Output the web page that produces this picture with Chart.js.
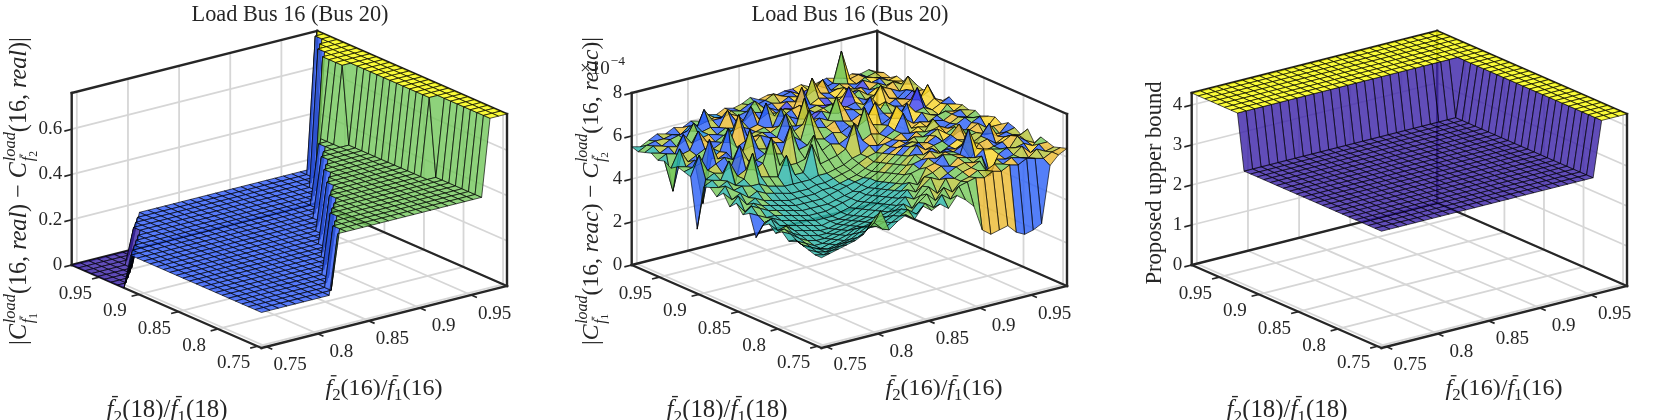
<!DOCTYPE html>
<html>
<head>
<meta charset="utf-8">
<script src="https://cdn.jsdelivr.net/npm/chart.js@4.4.1/dist/chart.umd.min.js"></script>
<style>
html,body{margin:0;padding:0;background:#fff;overflow:hidden;}
#wrap{position:relative;width:1680px;height:420px;}
.pane{position:absolute;top:0;width:560px;height:420px;}
canvas{display:block;}
</style>
</head>
<body>
<div id="wrap">
  <div class="pane" style="left:0px"><canvas id="c1" width="560" height="420"></canvas></div>
  <div class="pane" style="left:560px"><canvas id="c2" width="560" height="420"></canvas></div>
  <div class="pane" style="left:1120px"><canvas id="c3" width="560" height="420"></canvas></div>
</div>
<script>
// ===================== DATA =====================
const axisMin = 0.745, axisMax = 0.985;          // x / y axis limits (both ratios)
const xTicks = [0.75, 0.8, 0.85, 0.9, 0.95];      // f2(16)/f1(16)
const yTicks = [0.75, 0.8, 0.85, 0.9, 0.95];      // f2(18)/f1(18)
const zTicks1 = [0, 0.2, 0.4, 0.6];
const zTicks2 = [0, 2, 4, 6, 8];                  // x 10^-4
const zTicks3 = [0, 1, 2, 3, 4];
const zTop1 = 0.76, zTop2 = 8, zTop3 = 4.3;

// grid of operating points (30 points per axis)
const grid30 = [0.7450,0.7533,0.7616,0.7698,0.7781,0.7864,0.7947,0.8029,0.8112,0.8195,
                0.8278,0.8360,0.8443,0.8526,0.8609,0.8691,0.8774,0.8857,0.8940,0.9022,
                0.9105,0.9188,0.9271,0.9353,0.9436,0.9519,0.9602,0.9684,0.9767,0.9850];

// Panel 1: plateau levels and, per row of f2(18)/f1(18), runs of [level index, count] along f2(16)/f1(16)
const levels1 = [0, 0.157, 0.42, 0.76];
const runs1 = [
 [1,9, 2,18, 3,3],[1,10, 2,17, 3,3],[1,10, 2,17, 3,3],[1,11, 2,16, 3,3],[1,12, 2,15, 3,3],
 [1,12, 2,15, 3,3],[1,13, 2,14, 3,3],[1,14, 2,13, 3,3],[1,15, 2,11, 3,4],[1,15, 2,11, 3,4],
 [1,16, 2,10, 3,4],[1,17, 2,9, 3,4],[1,17, 2,9, 3,4],[1,18, 2,8, 3,4],[1,19, 2,7, 3,4],
 [1,19, 2,7, 3,4],[1,20, 2,6, 3,4],[1,21, 2,5, 3,4],[1,21, 2,5, 3,4],[1,22, 2,4, 3,4],
 [1,23, 2,2, 3,5],[0,1, 1,22, 2,2, 3,5],[0,2, 1,22, 2,1, 3,5],[0,3, 1,22, 3,5],[0,4, 1,22, 3,4],
 [0,5, 1,21, 3,4],[0,5, 1,22, 3,3],[0,6, 1,22, 3,2],[0,7, 1,21, 3,2],[0,8, 1,21, 3,1]
];

// Panel 2: |C1 - C2| (reactive), in tenths of 1e-4; rows = f2(18)/f1(18), cols = f2(16)/f1(16)
const z2tenths = [
 [42,43,44,45,46,48,53,57,47,50, 52,49,54,51,53,50,55,52,48,36, 33,34,35,31,29,30,32,58,62,64],
 [42,41,42,43,44,45,47,50,46,48, 50,52,49,53,50,55,52,57,58,59, 58,60,59,61,60,62,61,60,62,63],
 [43,41,40,41,42,43,45,47,46,47, 49,51,48,52,55,51,56,53,57,58, 60,59,61,60,62,61,60,63,61,62],
 [44,42,40,39,40,41,43,45,44,46, 47,49,51,48,53,56,52,58,57,59, 60,62,54,61,60,61,64,60,63,63],
 [45,41,39,38,39,40,41,43,43,44, 46,47,49,52,50,55,58,56,58,60, 61,60,62,52,61,63,62,63,61,64],
 [43,42,40,38,38,39,40,41,42,43, 44,46,48,50,53,51,57,58,60,59, 62,61,60,63,62,61,60,65,62,60],
 [46,44,41,39,38,38,39,40,41,42, 43,45,47,49,51,54,52,59,60,63, 62,61,72,62,60,61,62,64,63,65],
 [44,45,42,40,39,38,38,39,40,41, 42,44,46,48,50,52,56,57,61,60, 62,61,63,56,62,63,60,62,62,61],
 [47,43,44,41,40,39,38,38,39,40, 41,43,45,47,49,51,54,58,59,62, 60,61,60,62,61,63,68,61,62,63],
 [45,47,43,42,41,40,39,38,39,39, 40,42,44,46,48,50,53,56,60,59, 61,58,60,62,61,57,62,61,60,64],
 [38,44,45,43,42,41,40,39,39,39, 40,41,43,45,47,49,52,55,58,62, 59,60,61,63,67,60,61,59,62,62],
 [48,46,44,44,43,42,41,40,40,40, 41,42,43,45,46,48,51,54,57,60, 61,60,62,58,60,62,61,63,60,64],
 [46,49,47,45,44,43,42,41,41,41, 41,42,43,44,46,48,50,53,56,59, 60,57,61,63,60,62,58,62,64,63],
 [50,45,48,46,45,44,43,42,42,42, 42,43,44,45,46,47,49,52,55,57, 58,60,59,61,62,60,61,63,62,61],
 [47,51,46,48,46,45,44,43,43,43, 43,44,44,45,46,47,49,51,54,56, 58,57,60,59,64,58,60,62,61,63],
 [52,48,50,47,49,47,46,45,44,44, 44,45,45,46,47,48,50,52,53,56, 57,59,58,60,59,61,60,62,63,62],
 [49,53,50,51,50,50,48,47,46,46, 46,46,47,47,48,49,51,52,55,54, 57,59,66,58,60,59,61,62,61,63],
 [52,51,53,50,52,63,51,50,49,58, 48,48,60,50,51,52,54,65,56,58, 57,60,68,61,58,62,60,59,63,62],
 [51,53,52,60,52,54,53,55,66,52, 51,51,52,62,54,56,55,57,58,69, 60,59,61,60,66,61,62,60,62,64],
 [30,52,54,53,55,64,56,55,57,56, 55,67,55,56,58,57,59,58,60,59, 61,68,62,61,60,62,70,60,63,61],
 [53,62,54,56,58,56,57,68,58,57, 59,58,60,57,70,61,60,62,61,60, 62,61,60,65,62,61,63,62,68,60],
 [54,55,56,66,56,58,42,57,58,62, 60,59,69,60,62,61,63,61,71,64, 63,62,67,62,61,63,62,65,61,63],
 [55,54,56,35,55,57,67,57,59,60, 61,60,62,61,60,72,61,64,62,61, 63,64,62,63,69,62,61,64,62,62],
 [53,61,54,56,58,57,59,58,70,59, 60,61,60,68,63,61,60,62,63,64, 62,70,64,62,63,66,64,62,68,63],
 [55,40,56,57,65,59,58,60,61,62, 60,61,70,63,62,64,65,62,63,62, 61,64,63,65,62,64,63,65,63,62],
 [54,56,55,63,58,59,60,59,61,60, 62,68,61,63,62,63,62,71,62,64, 63,62,66,63,64,62,64,62,63,62],
 [56,55,57,56,58,65,60,61,60,67, 61,60,63,62,63,61,64,63,62,72, 64,63,64,63,62,65,63,64,62,63],
 [55,57,56,58,59,60,59,68,62,62, 63,61,62,66,62,63,62,64,63,62, 64,68,62,64,63,62,64,63,62,61],
 [54,56,57,57,58,57,60,59,60,61, 60,62,61,63,62,63,65,63,64,62, 63,64,62,63,77,63,64,62,63,62],
 [55,54,56,58,57,59,58,60,59,61, 60,62,61,62,64,62,63,62,63,63, 64,62,63,64,63,62,63,62,63,61]
];
// Panel 2 face colour index (0..9 along the colormap), same layout as z2tenths
const c2 = [
 "4444445544 5455455557 7772222777","4444444544 4545556565 6757226667","4444444444 4455565657 5762567276",
 "5444444444 4445556256 7527262857","4544444444 4444565627 5628576288","4454444444 4444556725 7286527862",
 "5444444444 4444455627 5267728625","4544444444 4444555276 2758627268","4454444444 4444456562 7286258726",
 "5444444444 4444455627 6527862572","2544444444 4444455562 7286257682","4545444444 4444456526 2768527286",
 "5454444444 4444455672 6528762527","4545444444 4444555627 2756826257","5454544444 4445556562 7286527268",
 "4545454444 4445555627 5268725762","5454545544 4455556276 2857262587","4545656555 5555562657 6272856827",
 "5456262565 6556526267 8275612876","2562526256 2625657267 2856271826","4526272562 7256826572 6285271687",
 "5262725276 2572682567 2618762578","4625362726 5726271857 1826572867","5262725362 7265272618 7256827621",
 "4526272536 2725627281 6827256782","5262536272 5627217267 2856172687","4625272625 7256272816 7267258276",
 "5262536272 6527267281 6725872678","4526272563 7265276218 6728672576","5262527262 5726258267 1672586725"
];

// Panel 3: proposed upper bound, two plateau levels, runs per row
const levels3 = [2.92, 4.3];
const runs3 = [
 [0,26, 1,4],[0,26, 1,4],[0,26, 1,4],[0,26, 1,4],[0,26, 1,4],[0,26, 1,4],[0,26, 1,4],[0,26, 1,4],
 [0,26, 1,4],[0,26, 1,4],[0,26, 1,4],[0,26, 1,4],[0,26, 1,4],[0,26, 1,4],[0,26, 1,4],[0,26, 1,4],
 [0,26, 1,4],[0,26, 1,4],[0,26, 1,4],[0,26, 1,4],[0,26, 1,4],[0,26, 1,4],
 [1,30],[1,30],[1,30],[1,30],[1,30],[1,30],[1,30],[1,30]
];

const titleText = "Load Bus 16 (Bus 20)";
const zLabel3 = "Proposed upper bound";

// ===================== STYLE / LAYOUT =====================
const VIEW = { ox:261.5, oy:348, Xx:245.5, Xy:-62, Yx:-189.8, Yy:-83, Zy:-172 };
const DEPTH = { u:-175.8, v:-235.8, w:60.6 };
const FONT = '"Liberation Serif","Times New Roman",serif';
const INK = '#262626';
const FACE_ALPHA = 0.82;
const CMAP = [[0,[62,38,170]],[0.1,[65,65,235]],[0.2,[50,90,250]],[0.3,[30,130,235]],[0.4,[15,170,205]],
              [0.5,[80,195,120]],[0.6,[150,205,70]],[0.7,[200,192,55]],[0.8,[245,185,50]],[0.9,[250,215,40]],[1,[249,251,14]]];

function cmap(t){
  t = Math.max(0, Math.min(1, t));
  for (let k = 1; k < CMAP.length; k++) {
    if (t <= CMAP[k][0]) {
      const t0 = CMAP[k-1][0], c0 = CMAP[k-1][1], t1 = CMAP[k][0], c1 = CMAP[k][1];
      const f = (t - t0) / (t1 - t0);
      return c0.map((c, i) => Math.round(c + (c1[i] - c) * f));
    }
  }
  return CMAP[CMAP.length-1][1];
}
function expandRuns(runs, levels){
  return runs.map(r => { const row = []; for (let k = 0; k < r.length; k += 2) for (let n = 0; n < r[k+1]; n++) row.push(levels[r[k]]); return row; });
}
const Z1 = expandRuns(runs1, levels1);
const Z2 = z2tenths.map(r => r.map(v => v / 10));   // units of 1e-4
const Z3 = expandRuns(runs3, levels3);
const C2 = c2.map(s => s.replace(/ /g,'').split('').map(Number));

// ---------- rich text ----------
function fnt(it, size){ return (it ? 'italic ' : '') + size.toFixed(2) + 'px ' + FONT; }
function itemW(ctx, it, size){
  if (it.sup || it.sub) return Math.max(it.sup ? runW(ctx, it.sup, size) : 0, it.sub ? runW(ctx, it.sub, size) : 0);
  ctx.font = fnt(it.i, size * (it.s || 1));
  return ctx.measureText(it.t).width + (it.k || 0) * size;
}
function runW(ctx, items, size){ let w = 0; for (const it of items) w += itemW(ctx, it, size); return w; }
function drawRun(ctx, items, x, y, size){
  for (const it of items) {
    if (it.sup || it.sub) {
      if (it.sup) drawRun(ctx, it.sup, x, y, size);
      if (it.sub) drawRun(ctx, it.sub, x, y, size);
      x += itemW(ctx, it, size);
      continue;
    }
    const s = size * (it.s || 1);
    ctx.font = fnt(it.i, s);
    const by = y + (it.dy || 0) * size;
    ctx.fillText(it.t, x, by);
    const w = ctx.measureText(it.t).width;
    if (it.bar) {
      ctx.save(); ctx.lineWidth = Math.max(0.9, s * 0.055); ctx.strokeStyle = ctx.fillStyle;
      ctx.beginPath(); ctx.moveTo(x + 0.22 * s, by - 0.8 * s); ctx.lineTo(x + w + 0.18 * s, by - 0.8 * s); ctx.stroke();
      ctx.restore();
    }
    x += w + (it.k || 0) * size;
  }
}
function fitSize(ctx, items, target){ const base = 20; return base * target / runW(ctx, items, base); }
function drawCentered(ctx, items, cx, by, target){
  const size = fitSize(ctx, items, target);
  const w = runW(ctx, items, size);
  drawRun(ctx, items, cx - w / 2, by, size);
}
const fbar = n => [{t:'f', i:true, bar:true}, {t:String(n), s:0.7, dy:0.22}];
function ratioLabel(bus){ return [...fbar(2), {t:'('+bus+')/'}, ...fbar(1), {t:'('+bus+')'}]; }
function cterm(n){ return {sup:[{t:'load', i:true, s:0.68, dy:-0.46}], sub:[{t:'f', i:true, s:0.68, dy:0.3, bar:true}, {t:String(n), s:0.48, dy:0.44}]}; }
function zMathLabel(kind){
  return [{t:'|'}, {t:'C', i:true, k:0.03}, cterm(1), {t:'(16, '}, {t:kind, i:true}, {t:') \u2212 '},
          {t:'C', i:true, k:0.03}, cterm(2), {t:'(16, '}, {t:kind, i:true}, {t:')|'}];
}

// ---------- panel descriptions ----------
const panels = [
  { id:'c1', gx:grid30, gy:grid30, Z:Z1, zTop:zTop1, zTicks:zTicks1,
    colorT:(j,i)=> (Z1[j][i] - levels1[0]) / (levels1[3] - levels1[0]),
    title:titleText, zlab:zMathLabel('real'), zlabX:26, zlabY:191, zlabLen:308 },
  { id:'c2', gx:grid30, gy:grid30, Z:Z2, zTop:zTop2, zTicks:zTicks2,
    colorT:(j,i)=> C2[j][i] / 9,
    title:titleText, zlab:zMathLabel('reac'), zlabX:38, zlabY:191, zlabLen:308, exponent:true },
  { id:'c3', gx:grid30, gy:grid30, Z:Z3, zTop:zTop3, zTicks:zTicks3,
    colorT:(j,i)=> (Z3[j][i] - levels3[0]) / (levels3[1] - levels3[0]),
    title:null, zlabText:zLabel3, zlabX:41, zlabY:183, zlabLen:203 }
];

function makeSurfacePlugin(cfg){
  return {
  id: 'surface3d_' + cfg.id,
  afterDraw(chart){
    const ctx = chart.ctx, sx = chart.scales.x, sy = chart.scales.y;
    const P = (u, v, w) => [sx.getPixelForValue(VIEW.ox + u*VIEW.Xx + v*VIEW.Yx),
                            sy.getPixelForValue(VIEW.oy + u*VIEW.Xy + v*VIEW.Yy + w*VIEW.Zy)];
    const U = x => (x - axisMin) / (axisMax - axisMin);
    const W = z => z / cfg.zTop;
    const seg = (a, b) => { ctx.beginPath(); ctx.moveTo(a[0], a[1]); ctx.lineTo(b[0], b[1]); ctx.stroke(); };
    ctx.save();
    ctx.lineCap = 'butt';
    // grid lines on the three back planes
    ctx.strokeStyle = '#d6d6d6'; ctx.lineWidth = 1.8;
    for (const t of xTicks) { const u = U(t); seg(P(u,0,0), P(u,1,0)); seg(P(u,1,0), P(u,1,1)); }
    for (const t of yTicks) { const v = U(t); seg(P(0,v,0), P(1,v,0)); seg(P(1,v,0), P(1,v,1)); }
    for (const t of cfg.zTicks) { const w = W(t); seg(P(0,1,w), P(1,1,w)); seg(P(1,0,w), P(1,1,w)); }
    // box (back style)
    ctx.strokeStyle = INK; ctx.lineWidth = 2.4; ctx.lineCap = 'square';
    const E = [[[0,0,0],[1,0,0]],[[0,0,0],[0,1,0]],[[0,1,0],[1,1,0]],[[1,0,0],[1,1,0]],
               [[0,1,0],[0,1,1]],[[1,1,0],[1,1,1]],[[1,0,0],[1,0,1]],[[0,1,1],[1,1,1]],[[1,0,1],[1,1,1]]];
    for (const e of E) seg(P(e[0][0], e[0][1], e[0][2]), P(e[1][0], e[1][1], e[1][2]));
    // tick marks
    ctx.lineWidth = 1.7; ctx.lineCap = 'butt';
    for (const t of xTicks) { const u = U(t); seg(P(u,0,0), P(u,-0.03,0)); }
    for (const t of yTicks) { const v = U(t); seg(P(0,v,0), P(-0.03,v,0)); }
    for (const t of cfg.zTicks) { const w = W(t); seg(P(0,1,w), P(-0.03,1,w)); }
    // surface faces (painter's algorithm)
    const gx = cfg.gx, gy = cfg.gy, Z = cfg.Z, faces = [];
    for (let j = 0; j < gy.length - 1; j++) {
      for (let i = 0; i < gx.length - 1; i++) {
        const q = [[i,j],[i+1,j],[i+1,j+1],[i,j+1]].map(ab => [U(gx[ab[0]]), U(gy[ab[1]]), W(Z[ab[1]][ab[0]])]);
        let d = 0; for (const p of q) d += DEPTH.u*p[0] + DEPTH.v*p[1] + DEPTH.w*p[2];
        faces.push({ q: q, d: d, c: cmap(cfg.colorT(j, i)) });
      }
    }
    faces.sort((a, b) => a.d - b.d);
    ctx.lineWidth = 0.7; ctx.strokeStyle = 'rgba(0,0,0,0.95)'; ctx.lineJoin = 'round';
    for (const f of faces) {
      ctx.beginPath();
      f.q.forEach((p, k) => { const s = P(p[0], p[1], p[2]); if (k) ctx.lineTo(s[0], s[1]); else ctx.moveTo(s[0], s[1]); });
      ctx.closePath();
      ctx.fillStyle = 'rgba(' + f.c[0] + ',' + f.c[1] + ',' + f.c[2] + ',' + FACE_ALPHA + ')';
      ctx.fill(); ctx.stroke();
    }
    // tick labels
    ctx.fillStyle = INK; ctx.font = '19px ' + FONT; ctx.textBaseline = 'middle';
    ctx.textAlign = 'center';
    for (const t of xTicks) { const p = P(U(t),0,0); ctx.fillText(String(t), p[0] + 23.5, p[1] + 18.5); }
    for (const t of yTicks) { const p = P(0,U(t),0); ctx.fillText(String(t), p[0] - 24, p[1] + 17); }
    ctx.textAlign = 'right';
    for (const t of cfg.zTicks) { const p = P(0,1,W(t)); ctx.fillText(String(t), p[0] - 9.5, p[1]); }
    ctx.textAlign = 'left'; ctx.textBaseline = 'alphabetic';
    // exponent
    if (cfg.exponent) {
      ctx.font = '19px ' + FONT; ctx.fillText('\u00d710', 20, 74);
      const w = ctx.measureText('\u00d710').width;
      ctx.font = '13.5px ' + FONT; ctx.fillText('\u22124', 20 + w + 1, 64.5);
    }
    // axis labels
    drawCentered(ctx, ratioLabel(16), 384, 395, 117);
    drawCentered(ctx, ratioLabel(18), 167, 416.5, 121);
    // title
    if (cfg.title) drawCentered(ctx, [{t:cfg.title}], 290, 21, 197);
    // z label (rotated)
    ctx.save();
    ctx.translate(cfg.zlabX, cfg.zlabY); ctx.rotate(-Math.PI / 2);
    if (cfg.zlab) drawCentered(ctx, cfg.zlab, 0, 0, cfg.zlabLen);
    else drawCentered(ctx, [{t:cfg.zlabText}], 0, 0, cfg.zlabLen);
    ctx.restore();
    ctx.restore();
  }
  };
}

for (const cfg of panels) {
  new Chart(document.getElementById(cfg.id), {
    type: 'scatter',
    data: { datasets: [{ data: [], pointRadius: 0 }] },
    options: {
      responsive: false, animation: false, events: [],
      layout: { padding: 0 },
      plugins: { legend: { display: false }, tooltip: { enabled: false } },
      scales: {
        x: { type: 'linear', display: false, min: 0, max: 560 },
        y: { type: 'linear', display: false, min: 0, max: 420, reverse: true }
      }
    },
    plugins: [makeSurfacePlugin(cfg)]
  });
}
</script>
</body>
</html>
